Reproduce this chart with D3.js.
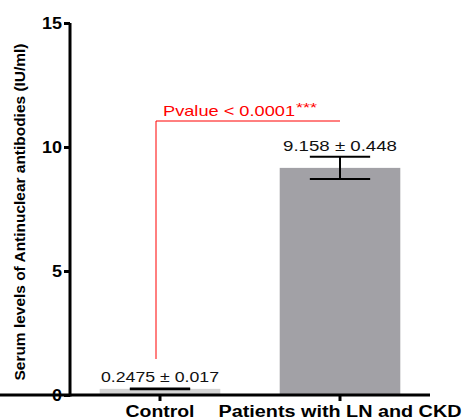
<!DOCTYPE html>
<html><head><meta charset="utf-8">
<script src="https://cdn.jsdelivr.net/npm/d3@7"></script>
<style>body{margin:0;background:#fff}</style>
</head><body>
<script>
const categories = ["Control", "Patients with LN and CKD"];
const means = [0.2475, 9.158];
const sems = [0.017, 0.448];
const valueLabels = ["0.2475 ± 0.017", "9.158 ± 0.448"];
const barColors = ["#d4d4d4", "#a2a1a6"];
const yTicks = [0, 5, 10, 15];
const pText = "Pvalue < 0.0001";
const pStars = "***";

const FONT = "Liberation Sans, Arial, sans-serif";
const W = 463, H = 419;
const svg = d3.select("body").append("svg").attr("width", W).attr("height", H);
const x = d3.scaleBand().domain(categories).range([70, 430]).paddingInner(0.33).paddingOuter(0.165);
const y = d3.scaleLinear().domain([0, 15]).range([395, 23]);

// bars
svg.selectAll("rect.bar").data(categories).enter().append("rect")
  .attr("x", d => x(d)).attr("width", x.bandwidth())
  .attr("y", (d,i) => y(means[i])).attr("height", (d,i) => y(0) - y(means[i]))
  .attr("fill", (d,i) => barColors[i]);

// error bars + value labels
const labelLen = [118, 114];
categories.forEach((c,i) => {
  const cx = x(c) + x.bandwidth()/2, hw = x.bandwidth()/4;
  const g = svg.append("g").attr("stroke", "#000").attr("stroke-width", 2);
  g.append("line").attr("x1", cx).attr("x2", cx).attr("y1", y(means[i]+sems[i])).attr("y2", y(means[i]-sems[i]));
  g.append("line").attr("x1", cx-hw).attr("x2", cx+hw).attr("y1", y(means[i]+sems[i])).attr("y2", y(means[i]+sems[i]));
  g.append("line").attr("x1", cx-hw).attr("x2", cx+hw).attr("y1", y(means[i]-sems[i])).attr("y2", y(means[i]-sems[i]));
  svg.append("text").attr("x", cx).attr("y", y(means[i]+sems[i]) - 6)
    .attr("text-anchor", "middle").attr("font-family", FONT)
    .attr("font-size", 14).attr("fill", "#111")
    .attr("textLength", labelLen[i]).attr("lengthAdjust", "spacingAndGlyphs")
    .text(valueLabels[i]);
});

// axes
const yAxis = svg.append("g").attr("transform", "translate(70,0)")
  .call(d3.axisLeft(y).tickValues(yTicks).tickSize(6).tickPadding(2));
const xAxis = svg.append("g").attr("transform", "translate(0,395)")
  .call(d3.axisBottom(x).tickSize(6).tickPadding(5).tickSizeOuter(0));
[yAxis, xAxis].forEach(a => {
  a.selectAll("path,line").attr("stroke", "#000").attr("stroke-width", 3);
  a.selectAll("text").attr("font-family", FONT)
    .attr("font-weight", "bold").attr("fill", "#000")
    .attr("lengthAdjust", "spacingAndGlyphs");
});
yAxis.select(".domain").attr("d", "M0,23V396.5");
xAxis.select(".domain").attr("d", "M-1.5,0H430");
yAxis.selectAll("text").attr("font-size", 16).attr("dy", "0.35em")
  .attr("textLength", d => String(d).length * 10);
const xLen = [69, 243];
xAxis.selectAll("text").attr("font-size", 16).attr("y", 22).attr("dy", null)
  .attr("textLength", (d,i) => xLen[i]);

// y title
svg.append("text").attr("transform", "translate(25,212) rotate(-90)")
  .attr("text-anchor", "middle").attr("font-family", FONT)
  .attr("font-weight", "bold").attr("font-size", 14).attr("fill", "#000")
  .attr("textLength", 337).attr("lengthAdjust", "spacingAndGlyphs")
  .text("Serum levels of Antinuclear antibodies (IU/ml)");

// significance annotation
const sx = 156, sy = 121;
svg.append("path").attr("d", `M${sx},359V${sy}H340`).attr("fill", "none")
  .attr("stroke", "#ff0000").attr("stroke-width", 1);
svg.append("text").attr("x", 163).attr("y", 116)
  .attr("font-family", FONT).attr("font-size", 15).attr("fill", "#ff0000")
  .attr("textLength", 132).attr("lengthAdjust", "spacingAndGlyphs").text(pText);
svg.append("text").attr("x", 296).attr("y", 112)
  .attr("font-family", FONT).attr("font-size", 12).attr("fill", "#ff0000")
  .attr("textLength", 21).attr("lengthAdjust", "spacingAndGlyphs").text(pStars);
</script>
</body></html>
